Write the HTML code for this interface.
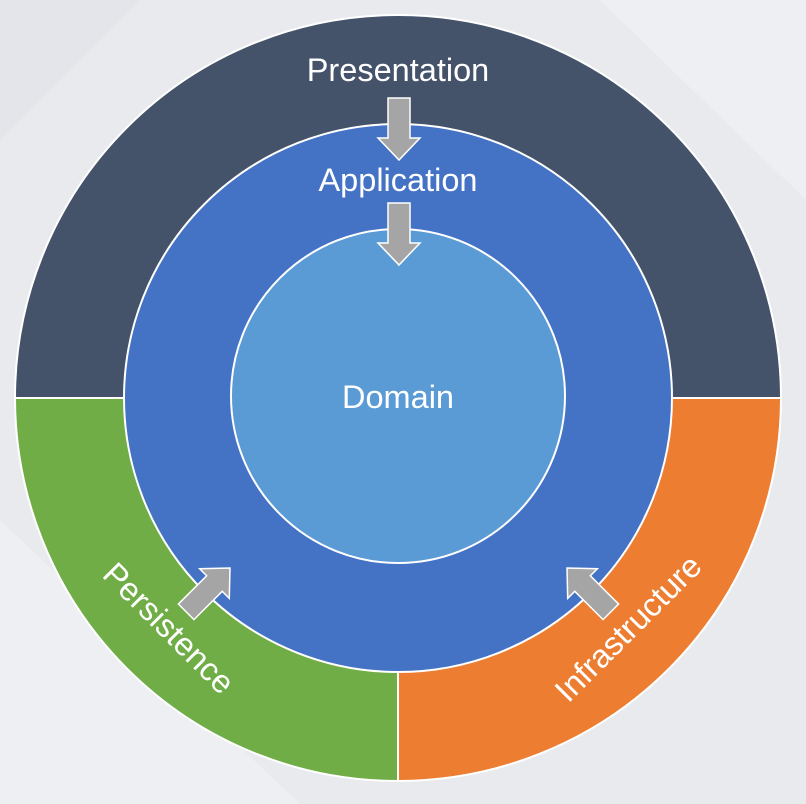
<!DOCTYPE html>
<html><head><style>
html,body{margin:0;padding:0;background:#e9eaee;}
svg{display:block;}
text{font-family:"Liberation Sans","DejaVu Sans",sans-serif;fill:#fff;}
</style></head><body>
<svg width="806" height="804" viewBox="0 0 806 804" xmlns="http://www.w3.org/2000/svg">
<rect width="806" height="804" fill="#e9eaee"/>
<polygon points="0,0 140,0 0,140" fill="#e4e5ea"/>
<polygon points="806,0 600,0 806,200" fill="#eeeff2"/>
<polygon points="0,520 0,804 300,804" fill="#eeeff2"/>
<defs>
<clipPath id="c"><circle cx="398" cy="398" r="383"/></clipPath>
<path id="ar" d="M-11,-62 L11,-62 L11,-22 L21,-22 L0,0 L-21,-22 L-11,-22 Z" fill="#a5a5a5" stroke="#fff" stroke-width="1.5" stroke-linejoin="miter"/>
</defs>
<g clip-path="url(#c)">
<rect x="0" y="0" width="806" height="398" fill="#44526a"/>
<rect x="0" y="398" width="398" height="406" fill="#70ad47"/>
<rect x="398" y="398" width="408" height="406" fill="#ed7d31"/>
<line x1="0" y1="398" x2="806" y2="398" stroke="#fff" stroke-width="2"/>
<line x1="398" y1="398" x2="398" y2="804" stroke="#fff" stroke-width="2"/>
</g>
<circle cx="398" cy="398" r="383" fill="none" stroke="#fff" stroke-width="2"/>
<circle cx="398" cy="398" r="274" fill="#4472c4" stroke="#fff" stroke-width="2"/>
<circle cx="398" cy="396" r="167" fill="#5b9bd5" stroke="#fff" stroke-width="2"/>
<use href="#ar" transform="translate(399,160)"/>
<use href="#ar" transform="translate(399,265)"/>
<use href="#ar" transform="translate(230,568) rotate(-135)"/>
<use href="#ar" transform="translate(567,568) rotate(135)"/>
<text x="398" y="81" font-size="32.5" text-anchor="middle">Presentation</text>
<text x="398" y="191" font-size="32.5" text-anchor="middle">Application</text>
<text x="398" y="408" font-size="32.5" text-anchor="middle">Domain</text>
<text x="0" y="0" font-size="32.5" text-anchor="middle" transform="translate(161,636) rotate(45)">Persistence</text>
<text x="0" y="0" font-size="32.5" text-anchor="middle" transform="translate(636,636) rotate(-45)">Infrastructure</text>
</svg>
</body></html>
